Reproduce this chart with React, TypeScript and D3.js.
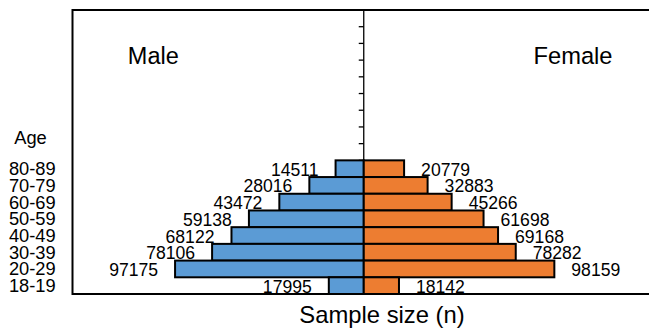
import React from "react";
import * as d3 from "d3";

const ageGroups = ["80-89", "70-79", "60-69", "50-59", "40-49", "30-39", "20-29", "18-19"];
const maleValues = [14511, 28016, 43472, 59138, 68122, 78106, 97175, 17995];
const femaleValues = [20779, 32883, 45266, 61698, 69168, 78282, 98159, 18142];
const blankSlots = ["b0", "b1", "b2", "b3", "b4", "b5", "b6", "ageHeader", "b8"];

const W = 649;
const H = 332;
const FONT = "Arial, 'Liberation Sans', Helvetica, sans-serif";
const BLUE = "#5B9BD5";
const ORANGE = "#ED7D31";

export default function App() {
  const slots = [...blankSlots, ...ageGroups];
  const y = d3.scaleBand<string>().domain(slots).range([10, 294]).padding(0);
  const x = d3.scaleLinear().domain([-150000, 150000]).range([72.5, 655]);
  const cx = x(0);
  const bw = y.bandwidth();
  const tickYs = d3.range(1, slots.length).map((k) => 10 + k * bw);

  return (
    <svg width={W} height={H} style={{ position: "absolute", left: 0, top: 0, background: "#fff" }} fontFamily={FONT}>
      <rect x={0} y={0} width={W} height={H} fill="#fff" />
      {/* frame */}
      <line x1={72.5} x2={W} y1={10} y2={10} stroke="#000" strokeWidth={2} />
      <line x1={72.5} x2={72.5} y1={9} y2={295} stroke="#000" strokeWidth={2} />
      <line x1={72.5} x2={W} y1={294} y2={294} stroke="#000" strokeWidth={2} />
      {/* center axis ticks */}
      {tickYs.map((t, i) => (
        <line key={i} x1={cx - 5} x2={cx} y1={t} y2={t} stroke="#000" strokeWidth={1.3} />
      ))}
      <line x1={cx} x2={cx} y1={10} y2={294} stroke="#000" strokeWidth={1.3} />
      {/* bars */}
      {ageGroups.map((g, i) => (
        <g key={g}>
          <rect x={x(-maleValues[i])} y={y(g)!} width={cx - x(-maleValues[i])} height={bw} fill={BLUE} stroke="#000" strokeWidth={2} />
          <rect x={cx} y={y(g)!} width={x(femaleValues[i]) - cx} height={bw} fill={ORANGE} stroke="#000" strokeWidth={2} />
        </g>
      ))}
      {/* value labels */}
      {ageGroups.map((g, i) => (
        <g key={"l" + g} fontSize={17.6} fill="#000">
          <text x={x(-maleValues[i]) - 17} y={y(g)! + bw / 2 + 7} textAnchor="end">{maleValues[i]}</text>
          <text x={x(femaleValues[i]) + 17} y={y(g)! + bw / 2 + 7} textAnchor="start">{femaleValues[i]}</text>
        </g>
      ))}
      {/* age labels */}
      {ageGroups.map((g) => (
        <text key={"a" + g} x={55.7} y={y(g)! + bw / 2 + 6.5} textAnchor="end" fontSize={18.3} fill="#000">{g}</text>
      ))}
      <text x={30.5} y={y("ageHeader")! + bw / 2 + 9} textAnchor="middle" fontSize={18.3} fill="#000">Age</text>
      <text x={153.3} y={64} textAnchor="middle" fontSize={23.5} fill="#000">Male</text>
      <text x={573} y={64} textAnchor="middle" fontSize={23.7} fill="#000">Female</text>
      <text x={382} y={323.3} textAnchor="middle" fontSize={23.8} fill="#000">Sample size (n)</text>
    </svg>
  );
}
